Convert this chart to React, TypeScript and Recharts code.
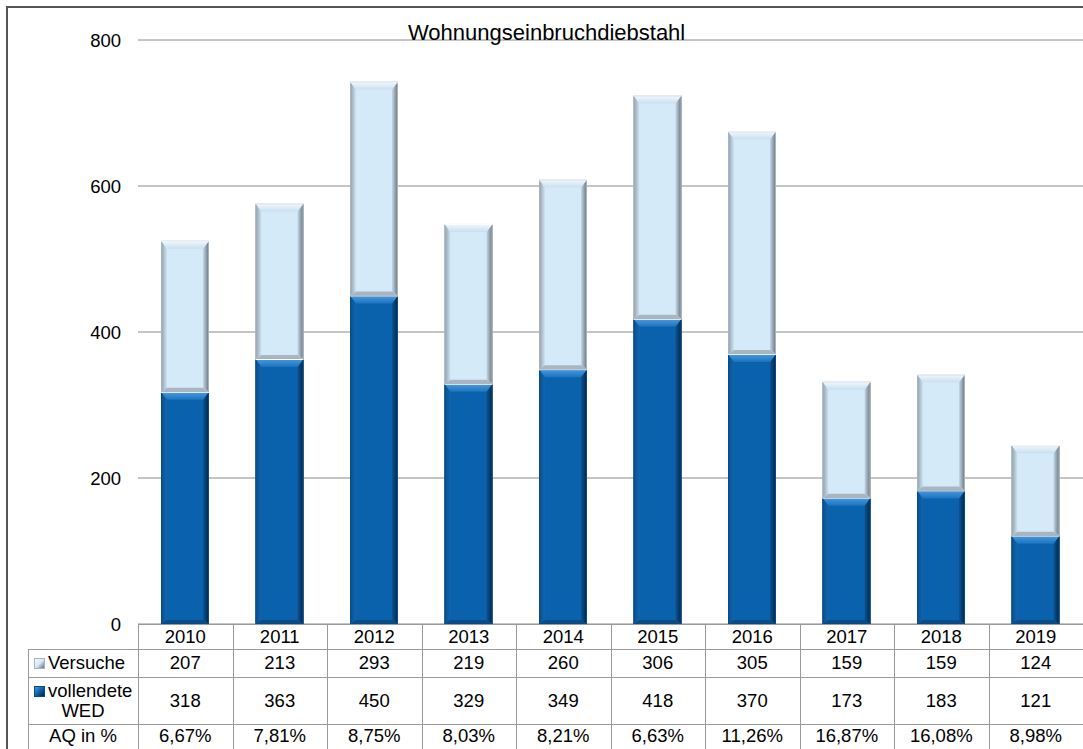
import React from "react";
import { BarChart, Bar, XAxis, YAxis, CartesianGrid } from "recharts";

const years = ["2010", "2011", "2012", "2013", "2014", "2015", "2016", "2017", "2018", "2019"];
const vollendete = [318, 363, 450, 329, 349, 418, 370, 173, 183, 121];
const versuche = [207, 213, 293, 219, 260, 306, 305, 159, 159, 124];
const aq = ["6,67%", "7,81%", "8,75%", "8,03%", "8,21%", "6,63%", "11,26%", "16,87%", "16,08%", "8,98%"];
const yTicks = [0, 200, 400, 600, 800];

const data = years.map((year, i) => ({ year, vollendete: vollendete[i], versuche: versuche[i] }));

const FONT = "'Liberation Sans', Arial, sans-serif";
const W = 1083;
const H = 749;
const PLOT_LEFT = 138;
const PLOT_TOP = 40;
const PLOT_BOTTOM = 624;
const COL_W = (W - PLOT_LEFT) / years.length;
const LINE = "#9a9a9a";
const FS = 18.5;

type Palette = {
  base: string;
  top: [string, string];
  left: [string, string];
  right: [string, string];
  bottom: string;
  outline: string;
};

const lightPal: Palette = {
  base: "#d5eaf8",
  top: ["#f2f9fe", "#c9dfee"],
  left: ["#8e9ca7", "#cfe4f2"],
  right: ["#c3d8e8", "#66727b"],
  bottom: "#aab6bf",
  outline: "#a7b4bd",
};

const darkPal: Palette = {
  base: "#0b62ac",
  top: ["#4a9be0", "#1b73bf"],
  left: ["#0a4f8c", "#0f66b0"],
  right: ["#0a5596", "#012546"],
  bottom: "#0a4c87",
  outline: "#0a4a84",
};

function makeShape(pal: Palette, key: string) {
  return (props: any) => {
    const { x, y, width, height, index } = props;
    if (!height || height <= 0) return <g />;
    const d = Math.min(8, height / 2);
    const b = Math.min(4, height / 2);
    const s = Math.min(6, width / 2);
    const id = `${key}-${index}`;
    return (
      <g>
        <defs>
          <linearGradient id={`${id}-t`} x1="0" y1="0" x2="0" y2="1">
            <stop offset="0" stopColor={pal.top[0]} />
            <stop offset="1" stopColor={pal.top[1]} />
          </linearGradient>
          <linearGradient id={`${id}-l`} x1="0" y1="0" x2="1" y2="0">
            <stop offset="0" stopColor={pal.left[0]} />
            <stop offset="1" stopColor={pal.left[1]} />
          </linearGradient>
          <linearGradient id={`${id}-r`} x1="0" y1="0" x2="1" y2="0">
            <stop offset="0" stopColor={pal.right[0]} />
            <stop offset="1" stopColor={pal.right[1]} />
          </linearGradient>
        </defs>
        <rect x={x} y={y} width={width} height={height} fill={pal.base} />
        <polygon
          points={`${x},${y} ${x + s},${y + d} ${x + s},${y + height - b} ${x},${y + height}`}
          fill={`url(#${id}-l)`}
        />
        <polygon
          points={`${x + width},${y} ${x + width},${y + height} ${x + width - s},${y + height - b} ${x + width - s},${y + d}`}
          fill={`url(#${id}-r)`}
        />
        <polygon
          points={`${x},${y + height} ${x + width},${y + height} ${x + width - s},${y + height - b} ${x + s},${y + height - b}`}
          fill={pal.bottom}
        />
        <polygon
          points={`${x},${y} ${x + width},${y} ${x + width - s},${y + d} ${x + s},${y + d}`}
          fill={`url(#${id}-t)`}
        />
        <rect x={x + 0.5} y={y + 0.5} width={width - 1} height={height - 1} fill="none" stroke={pal.outline} strokeWidth={1} />
        <line x1={x} x2={x + width} y1={y + 0.5} y2={y + 0.5} stroke="#ffffff" strokeWidth={1} />
      </g>
    );
  };
}

const cell = (left: number, top: number, width: number, height: number, extra: React.CSSProperties = {}) => ({
  position: "absolute" as const,
  left,
  top,
  width,
  height,
  display: "flex",
  alignItems: "center",
  justifyContent: "center",
  boxSizing: "border-box" as const,
  fontSize: FS,
  ...extra,
});

function Icon({ pal }: { pal: Palette }) {
  return (
    <span
      style={{
        display: "inline-block",
        width: 9,
        height: 9,
        marginRight: 3,
        background: `linear-gradient(135deg, ${pal.top[0]}, ${pal.base} 50%, ${pal.right[1]})`,
        border: `1px solid ${pal.outline}`,
      }}
    />
  );
}

export default function App() {
  const rows = [624, 649, 677, 724, H];
  return (
    <div style={{ position: "absolute", left: 0, top: 0, width: W, height: H, background: "#fff", overflow: "hidden", fontFamily: FONT, color: "#000" }}>
      <div style={{ position: "absolute", left: 6, top: 6, width: W, height: H, border: "2px solid #555", boxSizing: "border-box" }} />
      <BarChart
        width={W}
        height={H}
        data={data}
        margin={{ top: PLOT_TOP, right: 0, bottom: H - PLOT_BOTTOM, left: PLOT_LEFT - 60 }}
        barSize={48}
        style={{ position: "absolute", left: 0, top: 0 }}
      >
        <CartesianGrid vertical={false} stroke="#8a8a8a" strokeWidth={1} />
        <XAxis dataKey="year" hide />
        <YAxis
          domain={[0, 800]}
          ticks={yTicks}
          width={60}
          axisLine={false}
          tickLine={false}
          tickSize={6}
          tickMargin={11}
          tick={{ fontSize: FS, fill: "#000", fontFamily: FONT }}
        />
        <Bar dataKey="vollendete" stackId="a" isAnimationActive={false} shape={makeShape(darkPal, "v")} />
        <Bar dataKey="versuche" stackId="a" isAnimationActive={false} shape={makeShape(lightPal, "s")} />
      </BarChart>

      <span style={{ position: "absolute", left: 408, top: 20, fontSize: 22, whiteSpace: "nowrap" }}>Wohnungseinbruchdiebstahl</span>

      {/* data table */}
      <div style={{ position: "absolute", left: PLOT_LEFT, top: rows[0], width: W - PLOT_LEFT, height: 1, background: LINE }} />
      {[1, 2, 3].map((r) => (
        <div key={r} style={{ position: "absolute", left: 28, top: rows[r], width: W - 28, height: 1, background: LINE }} />
      ))}
      <div style={{ position: "absolute", left: 28, top: rows[1], width: 1, height: H - rows[1], background: LINE }} />
      {years.map((_, i) => (
        <div key={i} style={{ position: "absolute", left: Math.round(PLOT_LEFT + i * COL_W), top: rows[0], width: 1, height: H - rows[0], background: LINE }} />
      ))}

      <div style={cell(28, rows[1], PLOT_LEFT - 28, rows[2] - rows[1], { justifyContent: "flex-start", paddingLeft: 6 })}>
        <Icon pal={lightPal} />
        Versuche
      </div>
      <div style={cell(28, rows[2], PLOT_LEFT - 28, rows[3] - rows[2], { flexDirection: "column", lineHeight: "20px" })}>
        <span style={{ alignSelf: "flex-start", paddingLeft: 6, whiteSpace: "nowrap" }}>
          <Icon pal={darkPal} />
          vollendete
        </span>
        <span>WED</span>
      </div>
      <div style={cell(28, rows[3], PLOT_LEFT - 28, rows[4] - rows[3] - 2)}>AQ in %</div>

      {years.map((yr, i) => {
        const left = PLOT_LEFT + i * COL_W;
        return (
          <React.Fragment key={yr}>
            <div style={cell(left, rows[0], COL_W, rows[1] - rows[0])}>{yr}</div>
            <div style={cell(left, rows[1], COL_W, rows[2] - rows[1])}>{versuche[i]}</div>
            <div style={cell(left, rows[2], COL_W, rows[3] - rows[2])}>{vollendete[i]}</div>
            <div style={cell(left, rows[3], COL_W, rows[4] - rows[3] - 2)}>{aq[i]}</div>
          </React.Fragment>
        );
      })}
    </div>
  );
}
